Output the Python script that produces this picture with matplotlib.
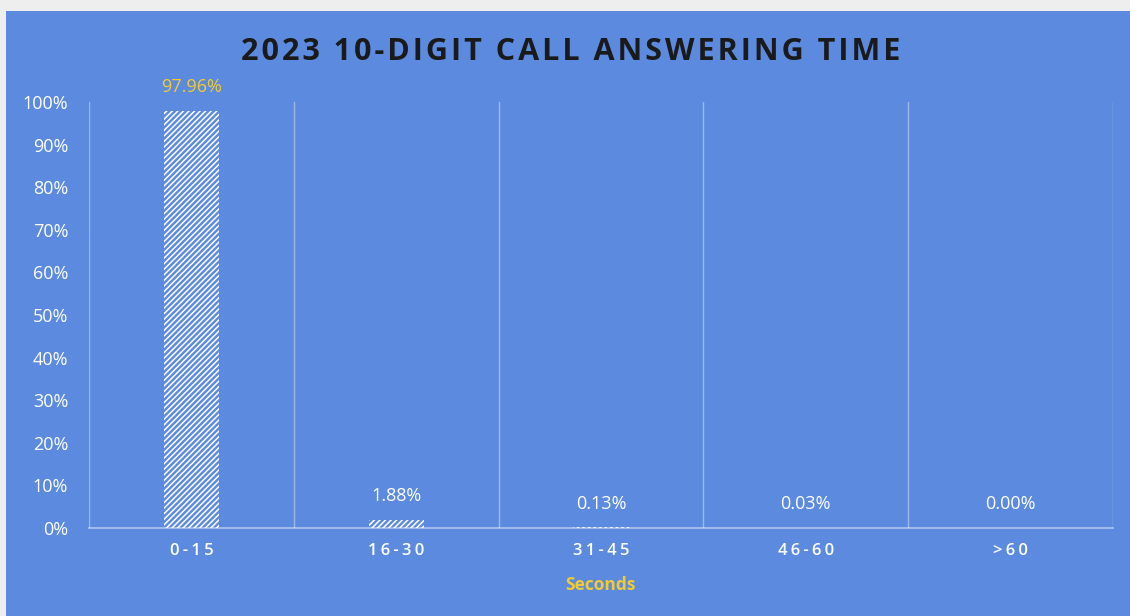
import matplotlib
matplotlib.use("Agg")
import matplotlib.pyplot as plt
from matplotlib.patches import Rectangle

categories = ["0-15", "16-30", "31-45", "46-60", ">60"]
values = [97.96, 1.88, 0.13, 0.03, 0.00]
value_labels = ["97.96%", "1.88%", "0.13%", "0.03%", "0.00%"]
label_colors = ["#F2CB2F", "white", "white", "white", "white"]
yticks = [0, 10, 20, 30, 40, 50, 60, 70, 80, 90, 100]
ytick_labels = [f"{t}%" for t in yticks]
title = "2023 10-DIGIT CALL ANSWERING TIME"
xlabel = "Seconds"

BLUE = "#5B8ADF"
HS = "\u200a"

def spaced(s, n=1):
    return (HS * n).join(list(s))

plt.rcParams['font.family'] = ['Open Sans', 'DejaVu Sans']
plt.rcParams['hatch.color'] = 'white'
plt.rcParams['hatch.linewidth'] = 1.1

fig = plt.figure(figsize=(11.3, 6.16), dpi=100, facecolor="#eeeeee")
fig.patches.append(Rectangle((6 / 1130, 0), 1, (616 - 11) / 616,
                             transform=fig.transFigure, facecolor=BLUE,
                             edgecolor="none", zorder=-5))

ax = fig.add_axes([89 / 1130, 1 - 528 / 616, (1113 - 89) / 1130, (528 - 102) / 616])
ax.set_facecolor("none")
ax.set_zorder(2)

x = list(range(len(categories)))
ax.bar(x, values, width=0.27, facecolor="none", edgecolor="white",
       linewidth=0, hatch="//////", zorder=3)

for xi, v, lab, c in zip(x, values, value_labels, label_colors):
    ax.annotate(lab, (xi, v), xytext=(0, 17), textcoords="offset points",
                ha="center", va="center", color=c, fontsize=13)

ax.set_xlim(-0.5, len(categories) - 0.5)
ax.set_ylim(0, 100)
for b in [i - 0.5 for i in range(len(categories) + 1)]:
    ax.axvline(b, color="white", alpha=0.4, linewidth=1, zorder=1)

ax.set_yticks(yticks)
ax.set_yticklabels(ytick_labels)
ax.set_xticks(x)
ax.set_xticklabels([spaced(c, 2) for c in categories])
ax.tick_params(axis="y", length=0, pad=15, colors="white", labelsize=13)
ax.tick_params(axis="x", length=0, pad=11, colors="white", labelsize=12)
for lbl in ax.get_xticklabels():
    lbl.set_fontweight("semibold")

for s in ["left", "right", "top"]:
    ax.spines[s].set_visible(False)
ax.spines["bottom"].set_color((1, 1, 1, 0.5))
ax.spines["bottom"].set_linewidth(1.2)

fig.text(571 / 1130, 1 - 52 / 616, spaced(title, 1), ha="center", va="center",
         fontsize=22, fontweight="bold", color="#1a1a1a")
fig.text(600 / 1130, 1 - 585 / 616, xlabel, ha="center", va="center",
         fontsize=12.5, fontweight="bold", color="#F2CB2F")

fig.savefig("out.png", dpi=100, facecolor=fig.get_facecolor())
